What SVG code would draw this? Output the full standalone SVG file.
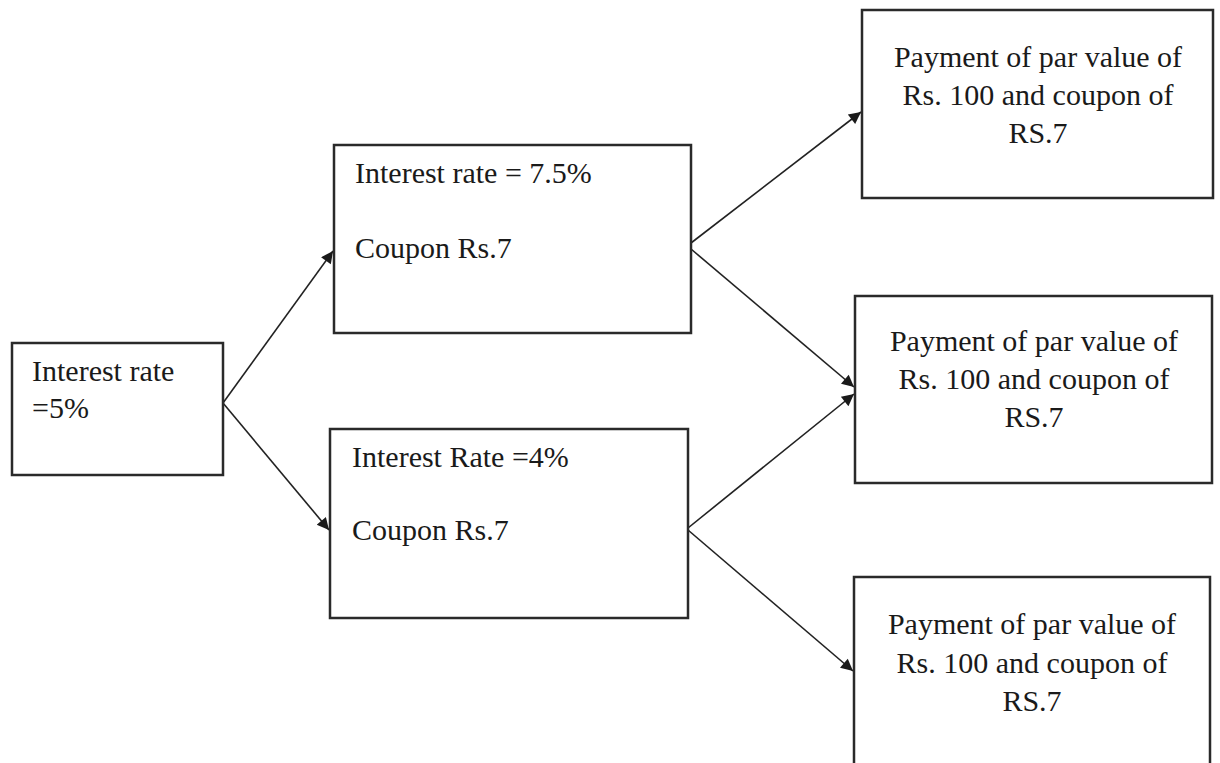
<svg xmlns="http://www.w3.org/2000/svg" width="1220" height="763" viewBox="0 0 1220 763">
<defs>
<style>
.box{fill:#fff;stroke:#2a2a2a;stroke-width:2.5}
.t{font-family:"Liberation Serif","Times New Roman",serif;font-size:30px;fill:#1a1a1a}
.c{text-anchor:middle}
.con{stroke:#222;stroke-width:1.6;fill:none}
</style>
<marker id="ah" viewBox="0 0 10 10" refX="10" refY="5" markerWidth="14" markerHeight="12" markerUnits="userSpaceOnUse" orient="auto">
<path d="M0,0 L10,5 L0,10 z" fill="#1a1a1a"/>
</marker>
</defs>
<rect width="1220" height="763" fill="#fff"/>
<g id="connectors">
<line class="con" x1="223" y1="403" x2="333" y2="251" marker-end="url(#ah)"/>
<line class="con" x1="223" y1="403" x2="329" y2="530" marker-end="url(#ah)"/>
<line class="con" x1="691" y1="243" x2="861" y2="112" marker-end="url(#ah)"/>
<line class="con" x1="691" y1="249" x2="854" y2="387" marker-end="url(#ah)"/>
<line class="con" x1="688" y1="528" x2="854" y2="394" marker-end="url(#ah)"/>
<line class="con" x1="688" y1="530" x2="853" y2="671" marker-end="url(#ah)"/>
</g>
<g id="n-start">
<rect class="box" x="12" y="343" width="211" height="132"/>
<text class="t" x="32" y="381">Interest rate</text>
<text class="t" x="32" y="418">=5%</text>
</g>
<g id="n-up">
<rect class="box" x="334" y="145" width="357" height="188"/>
<text class="t" x="355" y="183">Interest rate = 7.5%</text>
<text class="t" x="355" y="258">Coupon Rs.7</text>
</g>
<g id="n-down">
<rect class="box" x="330" y="429" width="358" height="189"/>
<text class="t" x="352" y="467">Interest Rate =4%</text>
<text class="t" x="352" y="540">Coupon Rs.7</text>
</g>
<g id="n-out1">
<rect class="box" x="862" y="10" width="351" height="188"/>
<text class="t c" x="1038" y="67">Payment of par value of</text>
<text class="t c" x="1038" y="105">Rs. 100 and coupon of</text>
<text class="t c" x="1038" y="143">RS.7</text>
</g>
<g id="n-out2">
<rect class="box" x="855" y="296" width="357" height="187"/>
<text class="t c" x="1034" y="351">Payment of par value of</text>
<text class="t c" x="1034" y="389">Rs. 100 and coupon of</text>
<text class="t c" x="1034" y="427">RS.7</text>
</g>
<g id="n-out3">
<rect class="box" x="854" y="577" width="356" height="200"/>
<text class="t c" x="1032" y="634">Payment of par value of</text>
<text class="t c" x="1032" y="673">Rs. 100 and coupon of</text>
<text class="t c" x="1032" y="711">RS.7</text>
</g>
</svg>
